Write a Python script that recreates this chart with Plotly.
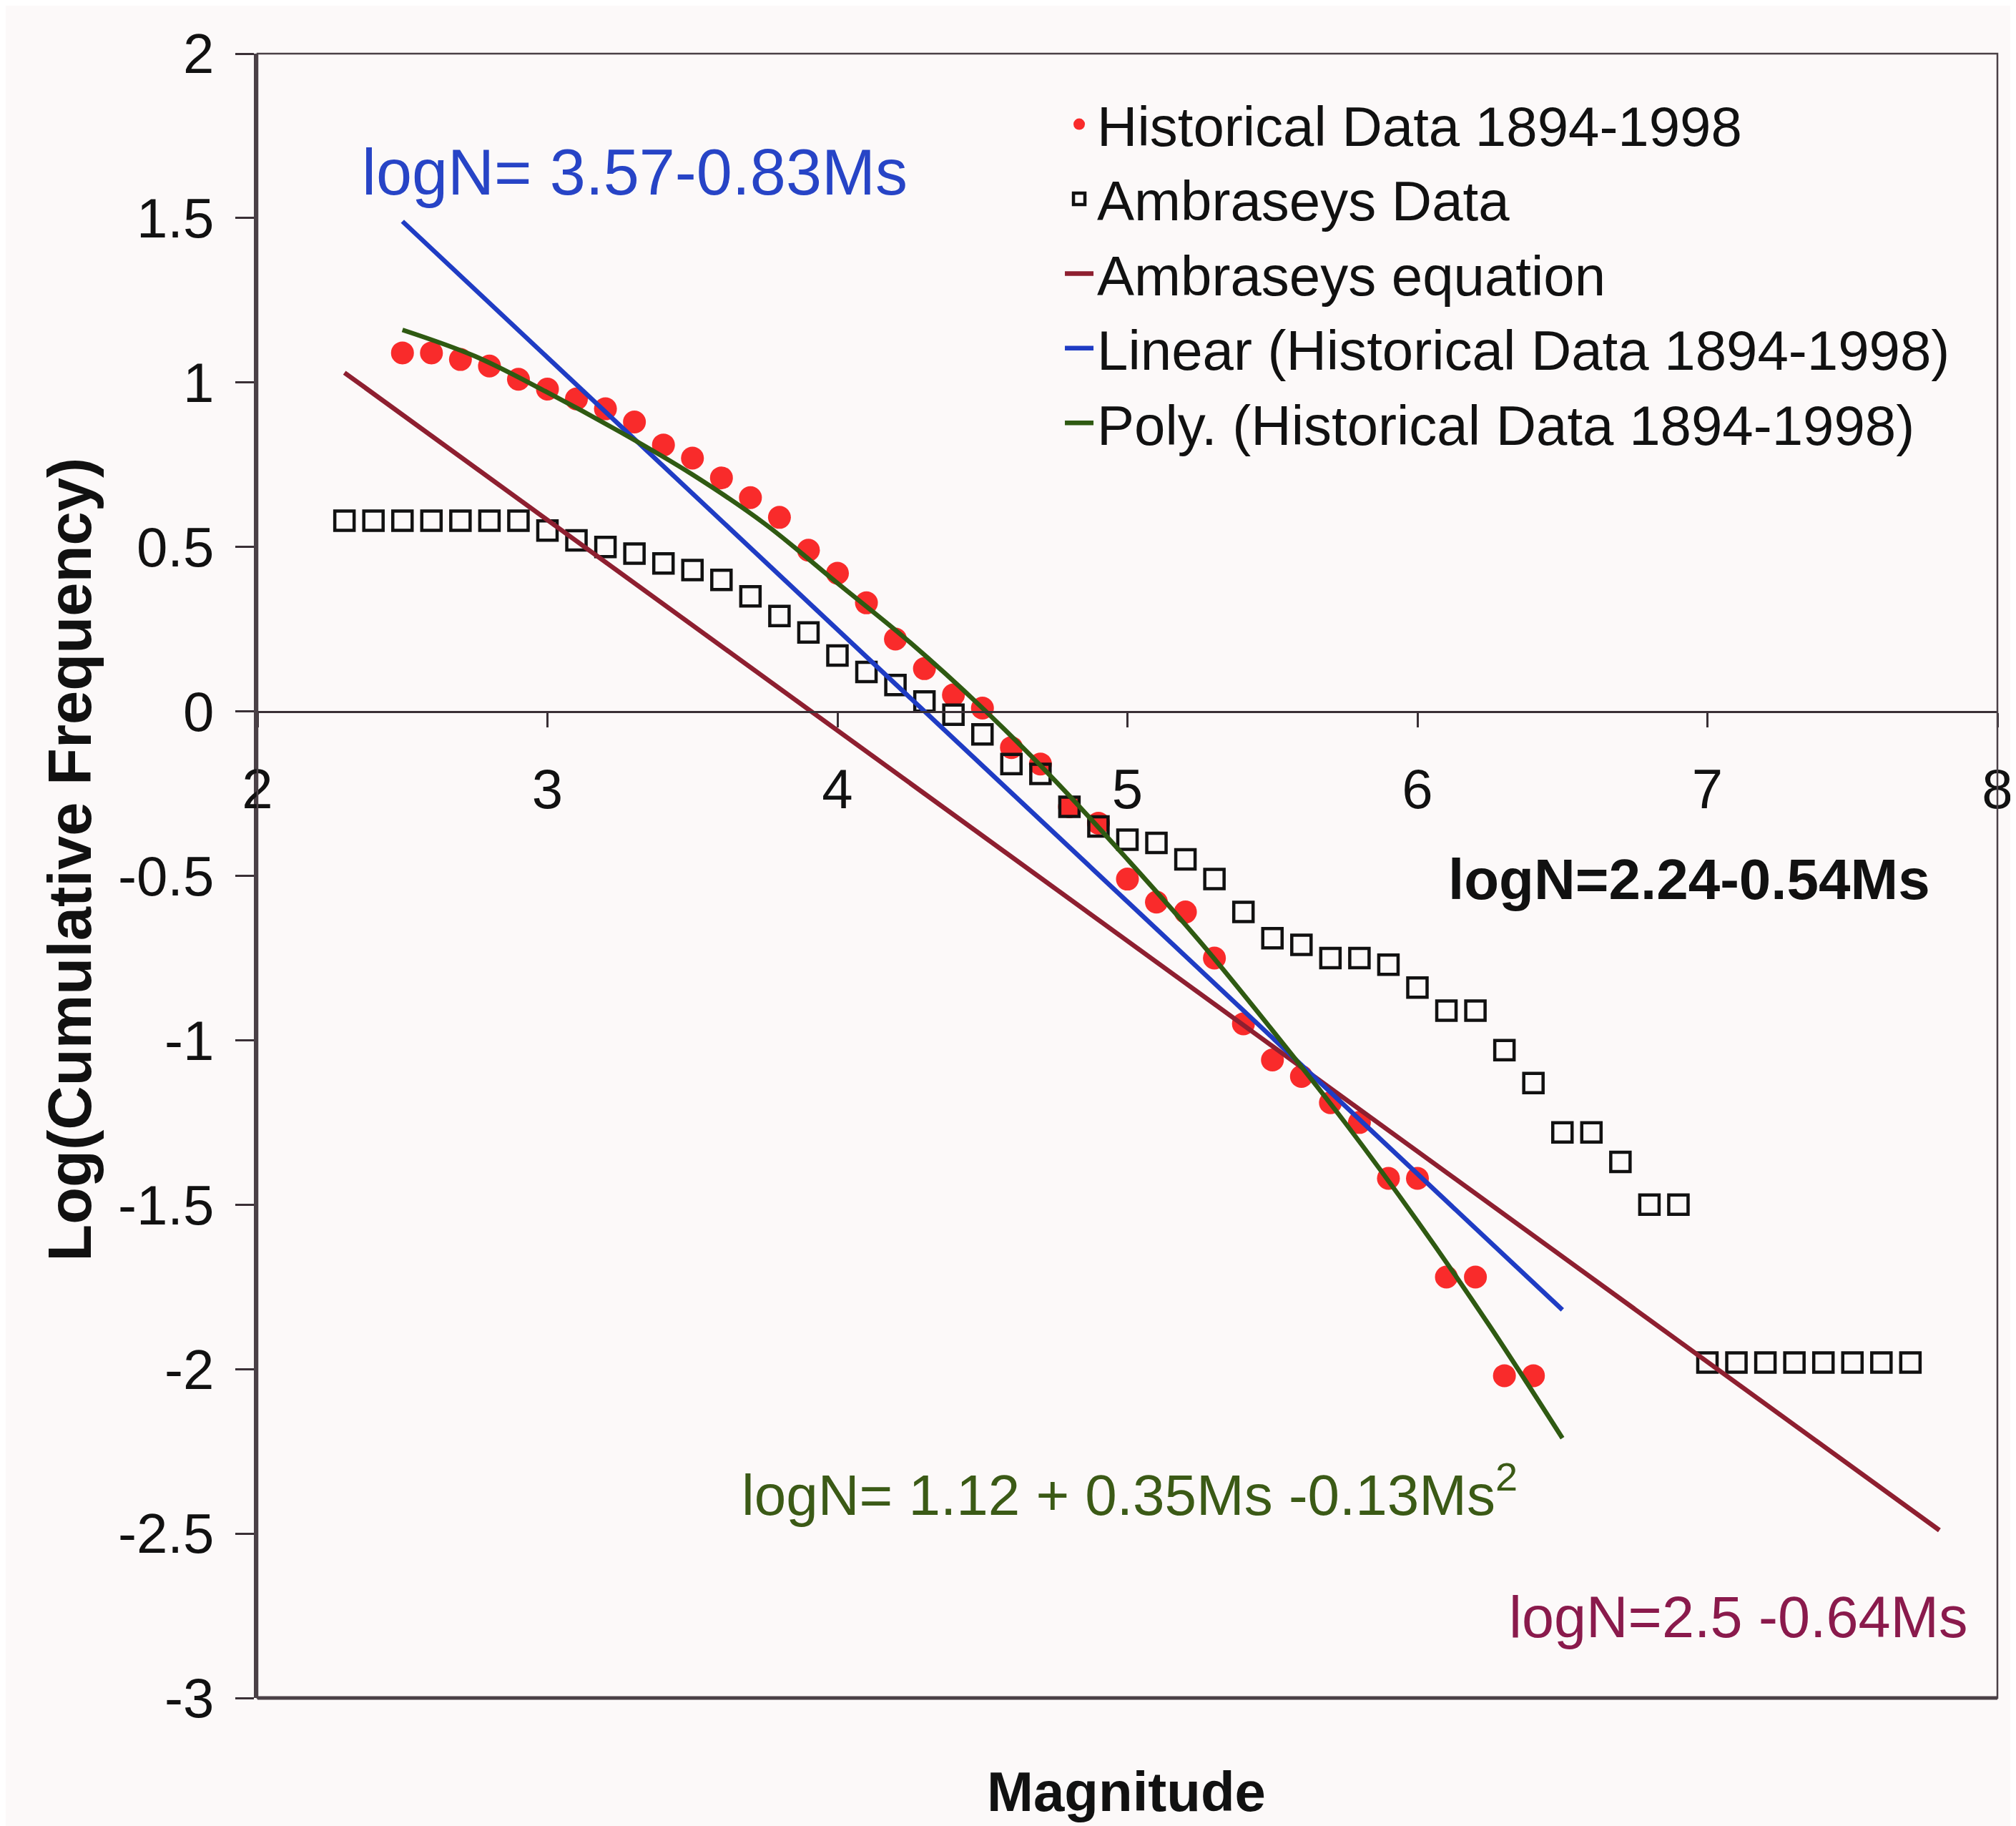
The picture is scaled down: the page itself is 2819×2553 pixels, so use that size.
import plotly.graph_objects as go

# ---------------- data ----------------
hist_mag = [2.5, 2.6, 2.7, 2.8, 2.9, 3.0, 3.1, 3.2, 3.3, 3.4, 3.5, 3.6, 3.7, 3.8, 3.9,
            4.0, 4.1, 4.2, 4.3, 4.4, 4.5, 4.6, 4.7, 4.8, 4.9, 5.0, 5.1, 5.2, 5.3, 5.4,
            5.5, 5.6, 5.7, 5.8, 5.9, 6.0, 6.1, 6.2, 6.3, 6.4]
hist_logn = [1.09, 1.09, 1.07, 1.05, 1.01, 0.98, 0.95, 0.92, 0.88, 0.81, 0.77, 0.71, 0.65, 0.59, 0.49,
             0.42, 0.33, 0.22, 0.13, 0.05, 0.01, -0.11, -0.16, -0.29, -0.34, -0.51, -0.58, -0.61, -0.75, -0.95,
             -1.06, -1.11, -1.19, -1.25, -1.42, -1.42, -1.72, -1.72, -2.02, -2.02]

amb_mag = [2.3, 2.4, 2.5, 2.6, 2.7, 2.8, 2.9, 3.0, 3.1, 3.2, 3.3, 3.4, 3.5, 3.6, 3.7,
           3.8, 3.9, 4.0, 4.1, 4.2, 4.3, 4.4, 4.5, 4.6, 4.7, 4.8, 4.9, 5.0, 5.1, 5.2,
           5.3, 5.4, 5.5, 5.6, 5.7, 5.8, 5.9, 6.0, 6.1, 6.2, 6.3, 6.4, 6.5, 6.6, 6.7,
           6.8, 6.9, 7.0, 7.1, 7.2, 7.3, 7.4, 7.5, 7.6, 7.7]
amb_logn = [0.58, 0.58, 0.58, 0.58, 0.58, 0.58, 0.58, 0.55, 0.52, 0.50, 0.48, 0.45, 0.43, 0.40, 0.35,
            0.29, 0.24, 0.17, 0.12, 0.08, 0.03, -0.01, -0.07, -0.16, -0.19, -0.29, -0.35, -0.39, -0.40, -0.45,
            -0.51, -0.61, -0.69, -0.71, -0.75, -0.75, -0.77, -0.84, -0.91, -0.91, -1.03, -1.13, -1.28, -1.28, -1.37,
            -1.50, -1.50, -1.98, -1.98, -1.98, -1.98, -1.98, -1.98, -1.98, -1.98]

amb_eq_mag = [2.3, 7.8]
amb_eq_logn = [1.03, -2.49]

lin_mag = [2.5, 6.5]
lin_logn = [1.49, -1.82]

poly_mag = [2.5, 2.75, 3.0, 3.25, 3.5, 3.75, 4.0, 4.25, 4.5, 4.75, 5.0, 5.25, 5.5, 5.75, 6.0, 6.25, 6.5]
poly_logn = [1.16, 1.08, 0.97, 0.85, 0.72, 0.57, 0.39, 0.21, 0.01, -0.21, -0.45, -0.70, -0.97, -1.25, -1.55, -1.87, -2.21]

y_tickvals = [2, 1.5, 1, 0.5, 0, -0.5, -1, -1.5, -2, -2.5, -3]
y_ticktext = ["2", "1.5", "1", "0.5", "0", "-0.5", "-1", "-1.5", "-2", "-2.5", "-3"]
x_tickvals = [2, 3, 4, 5, 6, 7, 8]
x_ticktext = ["2", "3", "4", "5", "6", "7", "8"]

FONT = "Liberation Sans, Arial, Helvetica, sans-serif"
BG = "#FCF9F9"

fig = go.Figure()

fig.add_trace(go.Scatter(
    x=hist_mag, y=hist_logn, mode="markers", name="Historical Data 1894-1998",
    marker=dict(symbol="circle", size=32, color="#F92B2B", line=dict(width=0))))
fig.add_trace(go.Scatter(
    x=amb_mag, y=amb_logn, mode="markers", name="Ambraseys Data",
    marker=dict(symbol="square-open", size=27, color="#111111", line=dict(width=4.5, color="#111111"))))
fig.add_trace(go.Scatter(
    x=amb_eq_mag, y=amb_eq_logn, mode="lines", name="Ambraseys equation",
    line=dict(color="#8E1F30", width=6.5)))
fig.add_trace(go.Scatter(
    x=lin_mag, y=lin_logn, mode="lines", name="Linear (Historical Data 1894-1998)",
    line=dict(color="#1F3CC4", width=6.5)))
fig.add_trace(go.Scatter(
    x=poly_mag, y=poly_logn, mode="lines", name="Poly. (Historical Data 1894-1998)",
    line=dict(color="#2F5A12", width=6.5, shape="spline")))

annotations = [
    dict(x=2.355, y=1.64, text="logN= 3.57-0.83Ms", font=dict(size=90, color="#2744C6", family=FONT)),
    dict(x=6.1, y=-0.51, text="<b>logN=2.24-0.54Ms</b>", font=dict(size=80, color="#111111", family=FONT)),
    dict(x=3.665, y=-2.37, text="logN= 1.12 + 0.35Ms -0.13Ms<sup>2</sup>", font=dict(size=80, color="#3B5A16", family=FONT)),
    dict(x=6.31, y=-2.755, text="logN=2.5 -0.64Ms", font=dict(size=81, color="#8A1A4C", family=FONT)),
]
for a in annotations:
    a.update(xref="x", yref="y", xanchor="left", yanchor="middle", showarrow=False)

annotations.append(dict(
    xref="paper", yref="paper", x=0.4995, y=-0.057, text="<b>Magnitude</b>",
    xanchor="center", yanchor="middle", showarrow=False,
    font=dict(size=78, color="#111111", family=FONT)))
annotations.append(dict(
    xref="paper", yref="paper", x=-0.108, y=0.51, text="<b>Log(Cumulative Frequency)</b>",
    xanchor="center", yanchor="middle", showarrow=False, textangle=-90,
    font=dict(size=85, color="#111111", family=FONT)))

fig.update_layout(
    width=2819, height=2553,
    margin=dict(l=352, r=15, t=67, b=187),
    paper_bgcolor=BG, plot_bgcolor=BG,
    font=dict(family=FONT, size=78, color="#111111"),
    showlegend=True,
    legend=dict(x=0.462, y=0.982, xanchor="left", yanchor="top",
                bgcolor="rgba(0,0,0,0)", font=dict(size=78, family=FONT, color="#111111"),
                itemwidth=40),
    annotations=annotations,
    shapes=[
        dict(type="rect", xref="paper", yref="paper", x0=0, x1=1, y0=0, y1=1,
             line=dict(color="#4A4046", width=2.5), layer="above"),
        dict(type="line", xref="paper", yref="paper", x0=0, x1=1, y0=0, y1=0,
             line=dict(color="#4A4046", width=5), layer="above"),
    ],
    xaxis=dict(range=[2, 8], tickvals=x_tickvals, ticktext=x_ticktext,
               anchor="free", position=0.6,
               showline=True, linecolor="#3A3036", linewidth=3,
               ticks="outside", ticklen=20, tickwidth=3, tickcolor="#3A3036",
               ticklabelstandoff=20, ticklabeloverflow="allow",
               showgrid=False, zeroline=False,
               tickfont=dict(size=78, family=FONT, color="#111111")),
    yaxis=dict(range=[-3, 2], tickvals=y_tickvals, ticktext=y_ticktext,
               showline=True, linecolor="#4A4046", linewidth=5,
               ticks="outside", ticklen=26, tickwidth=3, tickcolor="#3A3036",
               ticklabelstandoff=14,
               showgrid=False, zeroline=False,
               tickfont=dict(size=78, family=FONT, color="#111111")),
)

fig.write_html("out.html")
